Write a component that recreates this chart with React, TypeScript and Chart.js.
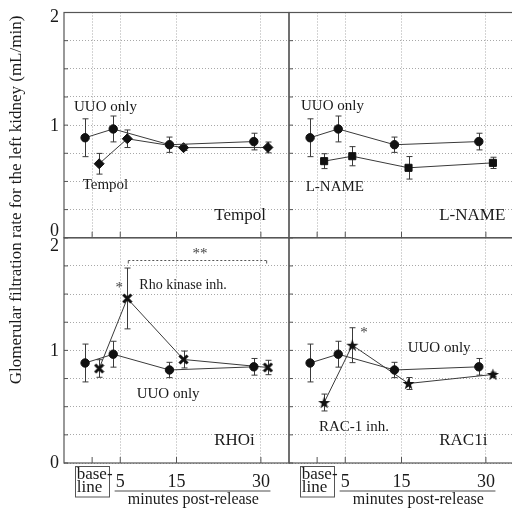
import React, { useEffect, useRef } from 'react';
import { Chart, registerables } from 'chart.js';

Chart.register(...registerables);

// ---------- data ----------
const TIMEPOINTS = [0, 5, 15, 30]; // baseline, 5, 15, 30 minutes post-release
const X_TICKS = [5, 15, 30];
const X_TICK_LABELS = ['5', '15', '30'];
const Y_TICK_VALUES = [0, 1, 2];
const Y_TICK_LABELS = ['0', '1', '2'];

const UUO_MEAN = [0.888, 0.966, 0.826, 0.854];
const UUO_SEM = [0.168, 0.115, 0.068, 0.074];
const TEMPOL_MEAN = [0.657, 0.879, 0.8, 0.802];
const TEMPOL_SEM = [0.092, 0.078, 0.025, 0.048];
const LNAME_MEAN = [0.68, 0.724, 0.621, 0.665];
const LNAME_SEM = [0.066, 0.085, 0.1, 0.05];
const RHOI_MEAN = [0.839, 1.461, 0.919, 0.848];
const RHOI_SEM = [0.078, 0.27, 0.075, 0.064];
const RAC1I_MEAN = [0.537, 1.046, 0.706, 0.786];
const RAC1I_SEM = [0.075, 0.155, 0.053, 0.02];

const PANEL_NAMES = ['Tempol', 'L-NAME', 'RHOi', 'RAC1i'];
const TREATMENT_LABELS = ['Tempol', 'L-NAME', 'Rho kinase inh.', 'RAC-1 inh.'];
const CONTROL_LABEL = 'UUO only';
const Y_TITLE = 'Glomerular filtration rate for the left kidney (mL/min)';
const X_TITLE = 'minutes post-release';
const BASELINE_LABEL = ['base-', 'line'];

// ---------- layout / style ----------
const DODGE = 1.25;
const FONT = '"Liberation Serif", "Times New Roman", serif';
const GRID = '#a8a8a8';
const FRAME = '#555';
const INK = '#1a1a1a';
const LINE = '#3a3a3a';

function makeXMark(): HTMLCanvasElement {
  const c = document.createElement('canvas');
  c.width = 11; c.height = 11;
  const g = c.getContext('2d')!;
  g.strokeStyle = '#111'; g.lineWidth = 3; g.lineCap = 'square';
  g.beginPath();
  g.moveTo(2.5, 2.5); g.lineTo(8.5, 8.5);
  g.moveTo(8.5, 2.5); g.lineTo(2.5, 8.5);
  g.stroke();
  return c;
}
function makeStar(): HTMLCanvasElement {
  const c = document.createElement('canvas');
  c.width = 13; c.height = 13;
  const g = c.getContext('2d')!;
  g.fillStyle = '#111';
  g.beginPath();
  for (let i = 0; i < 10; i++) {
    const r = i % 2 === 0 ? 6.4 : 2.6;
    const a = -Math.PI / 2 + (i * Math.PI) / 5;
    const px = 6.5 + r * Math.cos(a);
    const py = 7 + r * Math.sin(a);
    if (i === 0) g.moveTo(px, py); else g.lineTo(px, py);
  }
  g.closePath();
  g.fill();
  return c;
}

// text anchors in data coordinates of each panel
const PANELS = [
  { x: 'xL', y: 'yT', mean: TEMPOL_MEAN, sem: TEMPOL_SEM, marker: 'rectRot', radius: 5,
    ctrlPos: [-3.22, 1.164], treatPos: [-1.68, 0.468], treatFont: 15 },
  { x: 'xR', y: 'yT', mean: LNAME_MEAN, sem: LNAME_SEM, marker: 'rect', radius: 5,
    ctrlPos: [-2.87, 1.172], treatPos: [-2.03, 0.453], treatFont: 15 },
  { x: 'xL', y: 'yB', mean: RHOI_MEAN, sem: RHOI_SEM, marker: 'xmark', radius: 5,
    ctrlPos: [7.92, 0.613], treatPos: [8.39, 1.58], treatFont: 14 },
  { x: 'xR', y: 'yB', mean: RAC1I_MEAN, sem: RAC1I_SEM, marker: 'star', radius: 5,
    ctrlPos: [16.1, 1.018], treatPos: [0.33, 0.322], treatFont: 15 },
];
const NAME_POS = [21.7, 0.2];
// significance marks
const SIG_MARKS = [
  { x: 'xL', y: 'yB', text: '*', pos: [4.83, 1.58] },
  { x: 'xL', y: 'yB', text: '**', pos: [19.18, 1.885] },
  { x: 'xR', y: 'yB', text: '*', pos: [8.33, 1.181] },
];
const BRACKET = { x: 'xL', y: 'yB', from: 6.43, to: 31.03, at: 1.8 };

const framePlugin = {
  id: 'panelFrame',
  beforeDatasetsDraw(chart: any) {
    const ctx = chart.ctx as CanvasRenderingContext2D;
    const s = chart.scales;
    ctx.save();
    // baseline vertical grid in top panels only
    ctx.strokeStyle = GRID; ctx.lineWidth = 1; ctx.setLineDash([1, 2]);
    for (const xs of [s.xL, s.xR]) {
      const x = Math.round(xs.getPixelForValue(0)) + 0.5;
      ctx.beginPath(); ctx.moveTo(x, s.yT.top); ctx.lineTo(x, s.yT.bottom); ctx.stroke();
    }
    ctx.setLineDash([]);
    // error bars
    ctx.strokeStyle = LINE; ctx.lineWidth = 1;
    chart.data.datasets.forEach((ds: any, i: number) => {
      const meta = chart.getDatasetMeta(i);
      const ys = s[ds.yAxisID];
      meta.data.forEach((el: any, j: number) => {
        const m = ds.data[j].y;
        const e = ds.sem[j];
        const x = Math.round(el.x) + 0.5;
        const y1 = ys.getPixelForValue(m + e);
        const y2 = ys.getPixelForValue(m - e);
        ctx.beginPath();
        ctx.moveTo(x, y1); ctx.lineTo(x, y2);
        ctx.moveTo(x - 3, y1); ctx.lineTo(x + 3, y1);
        ctx.moveTo(x - 3, y2); ctx.lineTo(x + 3, y2);
        ctx.stroke();
      });
    });
    ctx.restore();
  },
  afterDatasetsDraw(chart: any) {
    const ctx = chart.ctx as CanvasRenderingContext2D;
    const s = chart.scales;
    ctx.save();
    ctx.strokeStyle = FRAME; ctx.lineWidth = 1.2;
    for (const xs of [s.xL, s.xR]) {
      for (const ys of [s.yT, s.yB]) {
        ctx.strokeRect(xs.left, ys.top, xs.width, ys.height);
        // y tick marks
        ctx.lineWidth = 1;
        for (const t of ys.ticks) {
          const y = ys.getPixelForValue(t.value);
          ctx.beginPath(); ctx.moveTo(xs.left, y); ctx.lineTo(xs.left + 4, y); ctx.stroke();
        }
        // x tick marks
        for (const t of TIMEPOINTS) {
          const x = xs.getPixelForValue(t);
          ctx.beginPath(); ctx.moveTo(x, ys.bottom); ctx.lineTo(x, ys.bottom - 6); ctx.stroke();
        }
        ctx.lineWidth = 1.2;
      }
    }
    ctx.restore();
  },
  afterDraw(chart: any) {
    const ctx = chart.ctx as CanvasRenderingContext2D;
    const s = chart.scales;
    ctx.save();
    ctx.fillStyle = INK;
    // y tick labels
    ctx.font = `18px ${FONT}`;
    ctx.textAlign = 'right'; ctx.textBaseline = 'alphabetic';
    const nudges: Record<string, number[]> = { yT: [-8, 0, 3], yB: [-1.5, 0, 7] };
    for (const id of ['yT', 'yB']) {
      const ys = s[id];
      Y_TICK_VALUES.forEach((v, i) => {
        ctx.fillText(Y_TICK_LABELS[i], s.xL.left - 5, ys.getPixelForValue(v) + nudges[id][i] + 6);
      });
    }
    // y title
    ctx.save();
    ctx.translate(17, 200);
    ctx.rotate(-Math.PI / 2);
    ctx.font = `17px ${FONT}`;
    ctx.textAlign = 'center'; ctx.textBaseline = 'middle';
    ctx.fillText(Y_TITLE, 0, 0);
    ctx.restore();
    // x axes under bottom panels
    const bottom = s.yB.bottom;
    for (const xs of [s.xL, s.xR]) {
      ctx.font = `18px ${FONT}`;
      ctx.textAlign = 'center'; ctx.textBaseline = 'alphabetic';
      X_TICKS.forEach((t, i) => ctx.fillText(X_TICK_LABELS[i], xs.getPixelForValue(t), bottom + 24));
      // baseline box
      const bx1 = xs.getPixelForValue(-3.1);
      const bx2 = xs.getPixelForValue(2.95);
      ctx.strokeStyle = FRAME; ctx.lineWidth = 1;
      ctx.strokeRect(Math.round(bx1) + 0.5, bottom + 3.5, Math.round(bx2 - bx1), 30.5);
      ctx.font = `17px ${FONT}`;
      ctx.textAlign = 'left';
      ctx.fillText(BASELINE_LABEL[0], bx1 + 2, bottom + 15.5);
      ctx.fillText(BASELINE_LABEL[1], bx1 + 2, bottom + 29);
      // underline
      ctx.strokeStyle = '#888'; ctx.lineWidth = 1.5;
      ctx.beginPath();
      ctx.moveTo(xs.getPixelForValue(4.0), bottom + 28);
      ctx.lineTo(xs.getPixelForValue(31.7), bottom + 28);
      ctx.stroke();
      ctx.font = `16px ${FONT}`;
      ctx.textAlign = 'center';
      ctx.fillText(X_TITLE, xs.getPixelForValue(18), bottom + 40.5);
    }
    // panel annotations
    ctx.textBaseline = 'middle';
    PANELS.forEach((p, i) => {
      const xs = s[p.x], ys = s[p.y];
      ctx.textAlign = 'left';
      ctx.font = `15px ${FONT}`;
      ctx.fillText(CONTROL_LABEL, xs.getPixelForValue(p.ctrlPos[0]), ys.getPixelForValue(p.ctrlPos[1]));
      ctx.font = `${p.treatFont}px ${FONT}`;
      ctx.fillText(TREATMENT_LABELS[i], xs.getPixelForValue(p.treatPos[0]), ys.getPixelForValue(p.treatPos[1]));
      ctx.font = `17px ${FONT}`;
      ctx.fillText(PANEL_NAMES[i], xs.getPixelForValue(NAME_POS[0]), ys.getPixelForValue(NAME_POS[1]));
    });
    // significance
    ctx.fillStyle = '#444';
    ctx.textAlign = 'center';
    ctx.font = `15px ${FONT}`;
    for (const m of SIG_MARKS) {
      ctx.fillText(m.text, s[m.x].getPixelForValue(m.pos[0]), s[m.y].getPixelForValue(m.pos[1]) + 3);
    }
    const bxs = s[BRACKET.x], bys = s[BRACKET.y];
    const by = Math.round(bys.getPixelForValue(BRACKET.at)) + 0.5;
    const b1 = bxs.getPixelForValue(BRACKET.from), b2 = bxs.getPixelForValue(BRACKET.to);
    ctx.strokeStyle = '#555'; ctx.lineWidth = 1; ctx.setLineDash([2, 2]);
    ctx.beginPath(); ctx.moveTo(b1, by); ctx.lineTo(b2, by); ctx.stroke();
    ctx.setLineDash([]);
    ctx.beginPath();
    ctx.moveTo(b1, by); ctx.lineTo(b1, by + 3);
    ctx.moveTo(b2, by); ctx.lineTo(b2, by + 3);
    ctx.stroke();
    ctx.restore();
  },
};

function xScale(): any {
  return {
    type: 'linear', position: 'bottom', stack: 'h', stackWeight: 1, min: -5, max: 35,
    ticks: { display: false },
    grid: { color: GRID, lineWidth: 1, drawTicks: false },
    border: { display: false, dash: [1, 2] },
    afterBuildTicks: (sc: any) => { sc.ticks = X_TICKS.map((v) => ({ value: v })); },
  };
}
function yScale(): any {
  return {
    type: 'linear', position: 'left', stack: 'v', stackWeight: 1, min: 0, max: 2,
    ticks: { display: false, stepSize: 0.25 },
    grid: { color: GRID, lineWidth: 1, drawTicks: false },
    border: { display: false, dash: [1, 2] },
  };
}

export default function App() {
  const ref = useRef<HTMLCanvasElement>(null);
  useEffect(() => {
    document.body.style.margin = '0';
    const xmark = makeXMark();
    const star = makeStar();
    const datasets: any[] = [];
    PANELS.forEach((p, i) => {
      datasets.push({
        label: `${CONTROL_LABEL} ${i}`,
        data: TIMEPOINTS.map((t, j) => ({ x: t - DODGE, y: UUO_MEAN[j] })),
        sem: UUO_SEM,
        xAxisID: p.x, yAxisID: p.y,
        borderColor: LINE, borderWidth: 1, backgroundColor: '#111',
        pointStyle: 'circle', pointRadius: 4.2, pointBorderColor: '#111', pointBackgroundColor: '#111',
        tension: 0, fill: false, clip: false,
      });
      const ps = p.marker === 'xmark' ? xmark : p.marker === 'star' ? star : p.marker;
      datasets.push({
        label: TREATMENT_LABELS[i],
        data: TIMEPOINTS.map((t, j) => ({ x: t + DODGE, y: p.mean[j] })),
        sem: p.sem,
        xAxisID: p.x, yAxisID: p.y,
        borderColor: LINE, borderWidth: 1, backgroundColor: '#111',
        pointStyle: ps, pointRadius: p.radius, pointBorderColor: '#111', pointBackgroundColor: '#111',
        tension: 0, fill: false, clip: false,
      });
    });
    const chart = new Chart(ref.current!, {
      type: 'line',
      data: { datasets },
      options: {
        responsive: false,
        animation: false,
        devicePixelRatio: 1,
        layout: { padding: { left: 64, top: 12.5, right: 2, bottom: 46 }, autoPadding: false },
        plugins: { legend: { display: false }, tooltip: { enabled: false } },
        scales: { xL: xScale(), xR: xScale(), yB: yScale(), yT: yScale() },
      } as any,
      plugins: [framePlugin],
    });
    return () => chart.destroy();
  }, []);
  return (
    <div style={{ position: 'fixed', left: 0, top: 0, width: 512, height: 509, overflow: 'hidden', background: '#fff' }}>
      <canvas ref={ref} width={516} height={509} style={{ display: 'block', width: 516, height: 509 }} />
    </div>
  );
}
